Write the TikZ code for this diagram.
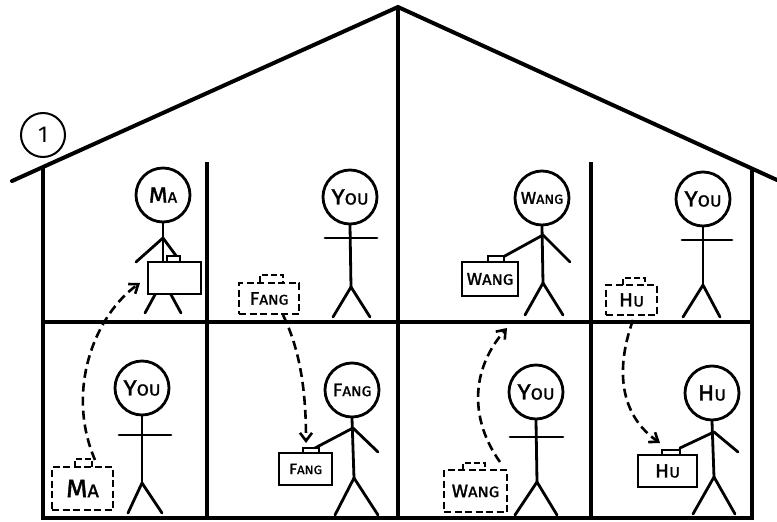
\documentclass[tikz,border=0pt]{standalone}
\usepackage{fontspec}
\setmainfont{Fira Sans}
\newfontfamily\handfont[FakeStretch=1.1,FakeBold=1.5]{Fira Sans}
\usetikzlibrary{arrows.meta}
% hand-lettered small caps: big first letter, smaller capitals after it
\newcommand\hw[4]{{\handfont\fontsize{#1}{#1}\selectfont #3}{\handfont\fontsize{#2}{#2}\selectfont #4}}
\tikzset{
  roofline/.style={line width=4pt, line cap=round, line join=miter},
  wall/.style={line width=3.3pt},
  stick/.style={line width=2.8pt, line cap=round},
  head/.style={circle, draw, line width=2.8pt, minimum size=54pt, inner sep=0pt, fill=white},
  case/.style={rectangle, draw, line width=2.8pt, fill=white, inner sep=0pt},
  dcase/.style={case, dashed, dash pattern=on 7pt off 3.5pt},
  handle/.style={line width=2.5pt, fill=white},
  dhandle/.style={line width=2.8pt, dashed, dash pattern=on 6pt off 3pt},
  move/.style={line width=2.6pt, dash pattern=on 9pt off 5pt,
    -{Straight Barb[length=8pt,width=12pt,line width=2.6pt]}},
}
\begin{document}
\begin{tikzpicture}[x=1pt,y=-1pt]
\useasboundingbox (0,0) rectangle (777,522);

% ---- house outline ----
\coordinate (eaveL) at (12,181);
\coordinate (apex) at (398,7);
\coordinate (eaveR) at (777,180);
\draw[roofline] (eaveL) -- (apex) -- (eaveR);
\draw[wall] (43,167) -- (43,518) -- (752,518) -- (752,169);
\draw[wall] (398,7) -- (398,518);
\draw[wall] (207,162) -- (207,518);
\draw[wall] (591,162) -- (591,518);
\draw[wall] (43,322) -- (752,322);

% ---- label ----
\node[circle, draw, line width=2pt, minimum size=44pt, inner sep=0pt, fill=white,
      font=\fontsize{23}{23}\selectfont] (num) at (43,135) {1};

% ---- upper floor, room 1: Ma carrying his case ----
\node[head] (maHead) at (163,195) {\hw{22}{15}{M}{A}};
\draw[stick] (maHead.south) -- (163,280);
\draw[stick] (163,238) -- (136,262);
\draw[stick] (163,238) -- (177,257);
\draw[stick] (163,280) -- (145,313);
\draw[stick] (163,280) -- (181,313);
\draw[handle] (167,256) rectangle (180,262);
\node[case, minimum width=53pt, minimum height=32pt] (maCase) at (174.5,278) {};

% ---- upper floor, room 2: You, Fang's case beside ----
\node[head] (youA) at (350,197) {\hw{22}{16}{Y}{OU}};
\draw[stick] (youA.south) -- (351,287);
\draw[stick] (325,238) -- (377,238);
\draw[stick] (351,287) -- (333,317);
\draw[stick] (351,287) -- (370,317);
\draw[dhandle] (260,282) -- (260,275) -- (283,275) -- (283,282);
\node[dcase, minimum width=60pt, minimum height=31pt] (fangOld) at (269,298.5) {\hw{18}{14}{F}{ANG}};

% ---- upper floor, room 3: Wang carrying his case ----
\node[head] (wangHead) at (542,198) {\hw{17}{13}{W}{ANG}};
\draw[stick] (wangHead.south) -- (543,283);
\draw[stick] (543,235) -- (503,257);
\draw[stick] (543,235) -- (570,262);
\draw[stick] (543,283) -- (525,315);
\draw[stick] (543,283) -- (563,315);
\draw[handle] (488,256) rectangle (504,262);
\node[case, minimum width=56pt, minimum height=34pt] (wangCase) at (490,279) {\hw{17}{15}{W}{ANG}};

% ---- upper floor, room 4: You, Hu's case beside ----
\node[head] (youB) at (703,199) {\hw{22}{16}{Y}{OU}};
\draw[stick] (youB.south) -- (703,285);
\draw[stick] (682,240) -- (732,240);
\draw[stick] (703,285) -- (683,317);
\draw[stick] (703,285) -- (720,317);
\draw[dhandle] (623,285) -- (623,278) -- (645,278) -- (645,285);
\node[dcase, minimum width=51pt, minimum height=30pt] (huOld) at (631.5,300) {\hw{19}{15}{H}{U}};

% ---- lower floor, room 1: You, Ma's case beside ----
\node[head] (youC) at (142,388) {\hw{22}{16}{Y}{OU}};
\draw[stick] (youC.south) -- (142,483);
\draw[stick] (119,435) -- (171,435);
\draw[stick] (142,483) -- (128,513);
\draw[stick] (142,483) -- (162,513);
\draw[dhandle] (75,467) -- (75,459) -- (92,459) -- (92,467);
\node[dcase, minimum width=61pt, minimum height=43pt] (maOld) at (82.5,488.5) {\hw{25}{18}{M}{A}};

% ---- lower floor, room 2: Fang carrying his case ----
\node[head] (fangHead) at (352,390) {\hw{18}{14}{F}{ANG}};
\draw[stick] (fangHead.south) -- (354,478);
\draw[stick] (353,428) -- (315,448);
\draw[stick] (353,428) -- (378,452);
\draw[stick] (354,478) -- (335,515);
\draw[stick] (354,478) -- (378,515);
\draw[handle] (303,448) rectangle (319,453);
\node[case, minimum width=53pt, minimum height=32pt] (fangCase) at (305.5,469) {\hw{15}{12}{F}{ANG}};

% ---- lower floor, room 3: You, Wang's case beside ----
\node[head] (youD) at (536,392) {\hw{22}{16}{Y}{OU}};
\draw[stick] (youD.south) -- (537,482);
\draw[stick] (510,437) -- (563,437);
\draw[stick] (537,482) -- (515,515);
\draw[stick] (537,482) -- (557,515);
\draw[dhandle] (463,470) -- (463,463) -- (485,463) -- (485,470);
\node[dcase, minimum width=63pt, minimum height=42pt] (wangOld) at (475.5,491) {\hw{18}{15}{W}{ANG}};

% ---- lower floor, room 4: Hu carrying his case ----
\node[head] (huHead) at (712,393) {\hw{22}{16}{H}{U}};
\draw[stick] (huHead.south) -- (714,477);
\draw[stick] (714,432) -- (680,448);
\draw[stick] (714,432) -- (738,452);
\draw[stick] (714,477) -- (693,514);
\draw[stick] (714,477) -- (735,514);
\draw[handle] (662,450) rectangle (680,455);
\node[case, minimum width=59pt, minimum height=32pt] (huCase) at (667.5,471) {\hw{19}{15}{H}{U}};

% ---- where each case goes ----
\coordinate (maFrom) at (95,460);
\coordinate (maTo) at (140,283);
\draw[move] (maFrom) .. controls (65,390) and (95,315) .. (maTo);
\coordinate (fangFrom) at (283,315);
\coordinate (fangTo) at (306,443);
\draw[move] (fangFrom) .. controls (300,350) and (306,390) .. (fangTo);
\coordinate (wangFrom) at (500,462);
\coordinate (wangTo) at (507,328);
\draw[move] (wangFrom) .. controls (470,420) and (470,370) .. (wangTo);
\coordinate (huFrom) at (633,320);
\coordinate (huTo) at (660,443);
\draw[move] (huFrom) .. controls (615,370) and (620,415) .. (huTo);
\end{tikzpicture}
\end{document}
